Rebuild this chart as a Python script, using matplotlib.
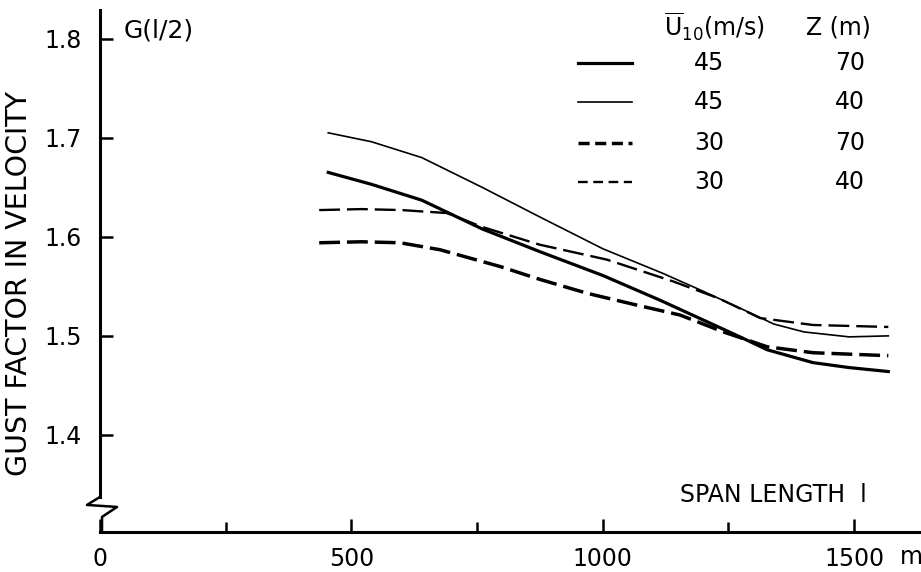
import numpy as np
import matplotlib.pyplot as plt

plt.rcParams['font.family'] = ['DejaVu Sans']
plt.rcParams['mathtext.default'] = 'regular'
plt.rcParams['lines.scale_dashes'] = False

# span length l (m) and gust factor G(l/2)
x_45_70 = [454, 540, 640, 760, 875, 1000, 1114, 1200, 1273, 1327, 1418, 1490, 1568]
g_45_70 = [1.665, 1.653, 1.637, 1.608, 1.585, 1.561, 1.536, 1.516, 1.499, 1.486, 1.473, 1.468, 1.464]

x_45_40 = [454, 540, 640, 760, 875, 1000, 1120, 1200, 1290, 1340, 1400, 1490, 1568]
g_45_40 = [1.705, 1.696, 1.680, 1.650, 1.620, 1.588, 1.563, 1.545, 1.524, 1.512, 1.504, 1.499, 1.500]

x_30_70 = [436, 520, 597, 676, 796, 875, 969, 1060, 1154, 1240, 1327, 1418, 1568]
g_30_70 = [1.594, 1.595, 1.594, 1.587, 1.570, 1.557, 1.543, 1.532, 1.521, 1.504, 1.489, 1.483, 1.480]

x_30_40 = [436, 520, 600, 690, 760, 875, 1008, 1140, 1230, 1313, 1418, 1568]
g_30_40 = [1.627, 1.628, 1.627, 1.624, 1.610, 1.592, 1.577, 1.555, 1.538, 1.518, 1.511, 1.509]

u10 = ['45', '45', '30', '30']
z = ['70', '40', '70', '40']

fig = plt.figure(figsize=(9.21, 5.72), dpi=100)
ax = fig.add_axes([100 / 921, 40 / 572, 821 / 921, 522 / 572])

ax.plot(x_45_70, g_45_70, color='black', lw=2.3)
ax.plot(x_45_40, g_45_40, color='black', lw=1.2)
ax.plot(x_30_70, g_30_70, color='black', lw=2.5, dashes=(15, 5))
ax.plot(x_30_40, g_30_40, color='black', lw=1.7, dashes=(15, 5))

ax.set_xlim(0, 1633)
ax.set_ylim(1.302, 1.829)

for s in ['top', 'right', 'left']:
    ax.spines[s].set_visible(False)
ax.spines['bottom'].set_linewidth(2.2)

# broken y axis drawn by hand
ax.plot([0, 0], [1.3374, 1.829], color='black', lw=2.2, clip_on=False)
ax.plot([0, -26, 34, 4, 4], [1.3374, 1.3293, 1.3273, 1.3172, 1.302],
        color='black', lw=1.8, clip_on=False)

ax.set_yticks([1.4, 1.5, 1.6, 1.7, 1.8])
ax.set_yticklabels(['1.4', '1.5', '1.6', '1.7', '1.8'])
ax.tick_params(axis='y', direction='in', length=9.5, width=1.8, labelsize=17, pad=13)

ax.set_xticks([0, 500, 1000, 1500])
ax.set_xticklabels(['0', '500', '1000', '1500'])
ax.set_xticks([250, 750, 1250], minor=True)
ax.tick_params(axis='x', which='major', direction='in', length=9.5, width=1.8, labelsize=17, pad=11)
ax.tick_params(axis='x', which='minor', direction='in', length=7, width=1.8)
ax.text(0.974, -0.048, 'm', transform=ax.transAxes, fontsize=17, va='center', ha='left')

ax.set_ylabel('GUST FACTOR IN VELOCITY', fontsize=20.5)
ax.yaxis.set_label_coords(-0.081, 0.477)

ax.text(46, 1.808, 'G(l/2)', fontsize=18, va='center', ha='left')
ax.text(0.7065, 0.071, 'SPAN LENGTH  l', transform=ax.transAxes, fontsize=17,
        va='center', ha='left')

# legend table
ax.text(0.748, 0.967, r'$\overline{U}_{10}$(m/s)', transform=ax.transAxes,
        fontsize=17, ha='center', va='center')
ax.text(0.899, 0.967, 'Z (m)', transform=ax.transAxes, fontsize=17, ha='center', va='center')
rows_y = [0.8985, 0.8238, 0.7452, 0.6705]
styles = [dict(lw=2.3), dict(lw=1.2), dict(lw=2.5, dashes=(8, 4)), dict(lw=1.7, dashes=(7, 4))]
for yy, u, zz, st in zip(rows_y, u10, z, styles):
    ax.plot([0.582, 0.648], [yy, yy], color='black', transform=ax.transAxes, **st)
    ax.text(0.742, yy, u, transform=ax.transAxes, fontsize=17, ha='center', va='center')
    ax.text(0.9135, yy, zz, transform=ax.transAxes, fontsize=17, ha='center', va='center')

fig.savefig('out.png', dpi=100)
